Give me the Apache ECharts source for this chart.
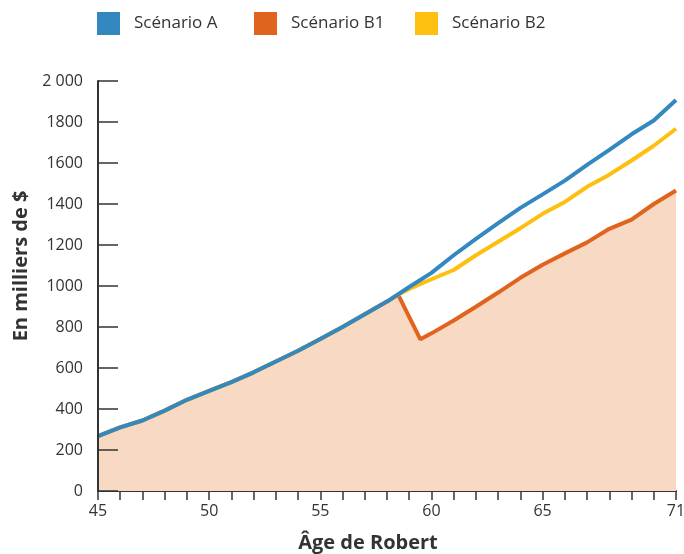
<!DOCTYPE html>
<html>
<head>
<meta charset="utf-8">
<script src="https://cdn.jsdelivr.net/npm/echarts@6/dist/echarts.min.js"></script>
<style>html,body{margin:0;padding:0;background:#fff}#c{width:684px;height:554px}</style>
</head>
<body>
<div id="c"></div>
<script>
// Data (values in thousands of $)
const ages = [45,46,47,48,49,50,51,52,53,54,55,56,57,58,59,60,61,62,63,64,65,66,67,68,69,70,71];
const scenarioA = [268,310,344,392,445,488,531,579,632,684,742,800,862,924,995,1064,1150,1230,1307,1381,1447,1514,1591,1664,1740,1807,1907];

const agesB1 = [45,46,47,48,49,50,51,52,53,54,55,56,57,58,58.5,59.5,60,61,62,63,64,65,66,67,68,69,70,71];
const scenarioB1 = [268,310,344,392,445,488,531,579,632,684,742,800,862,924,958,740,769,832,899,968,1040,1104,1159,1213,1279,1324,1400,1466];

const agesB2 = [45,46,47,48,49,50,51,52,53,54,55,56,57,58,58.5,59,60,61,62,63,64,65,66,67,68,69,70,71];
const scenarioB2 = [268,310,344,392,445,488,531,579,632,684,742,800,862,924,958,986,1033,1078,1150,1216,1282,1352,1410,1484,1543,1612,1684,1767];

const xLabelValues = [45,50,55,60,65,71];
const yTickMin = 0, yTickMax = 2000, yTickStep = 200;
const seriesNames = ['Scénario A','Scénario B1','Scénario B2'];
const colors = {A:'#3388c0', B1:'#e0641e', B2:'#fdc010', area:'#f8dac4'};

const pair = (xs, ys) => xs.map((x,i)=>[x, ys[i]]);
const FONT = '"Open Sans", "Noto Sans", sans-serif';
const TXT = '#333333';

const chart = echarts.init(document.getElementById('c'), null, {renderer:'canvas'});
const legendBase = (name, left) => ({
  data:[name], left:left, top:12, itemWidth:23, itemHeight:23, icon:'rect',
  selectedMode:false, padding:0,
  textStyle:{fontSize:17, color:TXT, fontFamily:FONT, padding:[0,0,0,9]}
});
chart.setOption({
  animation:false,
  backgroundColor:'#ffffff',
  legend:[legendBase(seriesNames[0],97), legendBase(seriesNames[1],254), legendBase(seriesNames[2],415)],
  grid:{left:98, right:8, top:81, bottom:63, containLabel:false, outerBoundsMode:'none'},
  xAxis:{
    type:'value', min:45, max:71, interval:1,
    name:'Âge de Robert', nameLocation:'middle', nameGap:42,
    nameTextStyle:{fontSize:20, fontWeight:'bold', color:TXT, fontFamily:FONT, padding:[0,38,0,0]},
    axisLine:{show:true, lineStyle:{color:TXT, width:2}},
    axisTick:{show:true, inside:false, length:9, lineStyle:{color:TXT, width:1.5}},
    axisLabel:{margin:12, fontSize:16, color:TXT, fontFamily:FONT,
      formatter:(v)=> xLabelValues.includes(v) ? String(v) : ''},
    splitLine:{show:false}
  },
  yAxis:{
    type:'value', min:yTickMin, max:yTickMax, interval:yTickStep, z:10,
    name:'En milliers de $', nameLocation:'middle', nameGap:52, nameRotate:90,
    nameTextStyle:{fontSize:20, fontWeight:'bold', color:TXT, fontFamily:FONT, padding:[0,0,0,40]},
    axisLine:{show:true, lineStyle:{color:TXT, width:2}},
    axisTick:{show:true, inside:true, length:20, lineStyle:{color:TXT, width:1.5}},
    axisLabel:{margin:15, fontSize:16, color:TXT, fontFamily:FONT,
      formatter:(v)=> v===2000 ? '2 000' : String(v)},
    splitLine:{show:false}
  },
  series:[
    {name:seriesNames[1], type:'line', data:pair(agesB1, scenarioB1), symbol:'none', z:2,
      lineStyle:{color:colors.B1, width:4}, itemStyle:{color:colors.B1},
      areaStyle:{color:colors.area, opacity:1}},
    {name:seriesNames[2], type:'line', data:pair(agesB2, scenarioB2), symbol:'none', z:3,
      lineStyle:{color:colors.B2, width:4}, itemStyle:{color:colors.B2}},
    {name:seriesNames[0], type:'line', data:pair(ages, scenarioA), symbol:'none', z:4,
      lineStyle:{color:colors.A, width:4}, itemStyle:{color:colors.A}}
  ]
});
</script>
</body>
</html>
